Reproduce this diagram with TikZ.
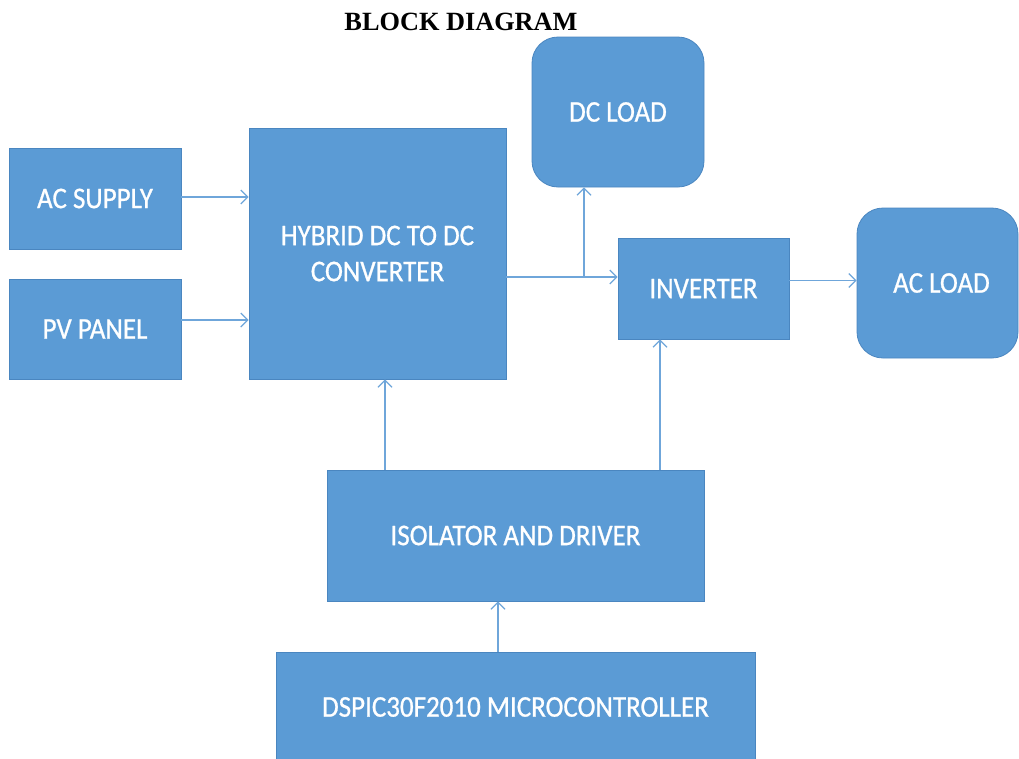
\documentclass[tikz,border=0pt]{standalone}
\usepackage{fontspec}
\setmainfont{Liberation Serif}
\newfontfamily\boxfont[FakeStretch=0.9,FakeBold=0.8]{Carlito}
\usetikzlibrary{arrows.meta}
\definecolor{blk}{HTML}{5B9BD5}
\definecolor{blkedge}{HTML}{4A86C0}
\definecolor{arr}{HTML}{6FA6DA}
\tikzset{
  blockbox/.style={rectangle, fill=blk, draw=blkedge, line width=0.8pt, text=white, align=center,
    inner sep=0pt, font=\boxfont\fontsize{30}{36}\selectfont},
  roundbox/.style={blockbox, rounded corners=26pt},
  link/.style={draw=arr, line width=1.3pt, -{Straight Barb[length=7pt,width=14pt,line width=1.2pt]}},
}
\begin{document}
\begin{tikzpicture}[x=1pt,y=-1pt]
\useasboundingbox (0,0) rectangle (1019,758);
% boxes
\node[blockbox, minimum width=172pt, minimum height=101pt] (ac) at (95,198.5) {AC SUPPLY};
\node[blockbox, minimum width=172pt, minimum height=100pt] (pv) at (95,329) {PV PANEL};
\node[blockbox, minimum width=257pt, minimum height=251pt] (hy) at (377.5,253.5) {HYBRID DC TO DC\\CONVERTER};
\node[roundbox, minimum width=172pt, minimum height=150pt] (dc) at (618,112) {DC LOAD};
\node[blockbox, minimum width=171pt, minimum height=101pt] (inv) at (703.5,288.5) {INVERTER};
\node[roundbox, minimum width=161pt, minimum height=150pt] (acl) at (937.5,283) {\hspace{8pt}AC LOAD};
\node[blockbox, minimum width=377pt, minimum height=131pt] (iso) at (515.5,535.5) {ISOLATOR AND DRIVER};
\node[blockbox, minimum width=479pt, minimum height=110pt] (mc) at (515.5,707) {DSPIC30F2010 MICROCONTROLLER};
% title
\node[font=\bfseries\fontsize{26.3}{30}\selectfont] (title) at (461,22) {BLOCK DIAGRAM};
\coordinate (br) at (584,277);
% connectors
\draw[link] ([yshift=1.5pt]ac.east) -- ([yshift=1.5pt]ac.east -| hy.west);
\draw[link] ([yshift=9pt]pv.east) -- ([yshift=9pt]pv.east -| hy.west);
\draw[link] (hy.east |- br) -- (inv.west |- br);
\draw[link] (br) -- (br |- dc.south);
\draw[link] ([yshift=8pt]inv.east) -- ([yshift=8pt]inv.east -| acl.west);
\draw[link] ([xshift=7.5pt]hy.south |- iso.north) -- ([xshift=7.5pt]hy.south);
\draw[link] ([xshift=-43.5pt]inv.south |- iso.north) -- ([xshift=-43.5pt]inv.south);
\draw[link] ([xshift=-17.5pt]iso.south |- mc.north) -- ([xshift=-17.5pt]iso.south);
\end{tikzpicture}
\end{document}
